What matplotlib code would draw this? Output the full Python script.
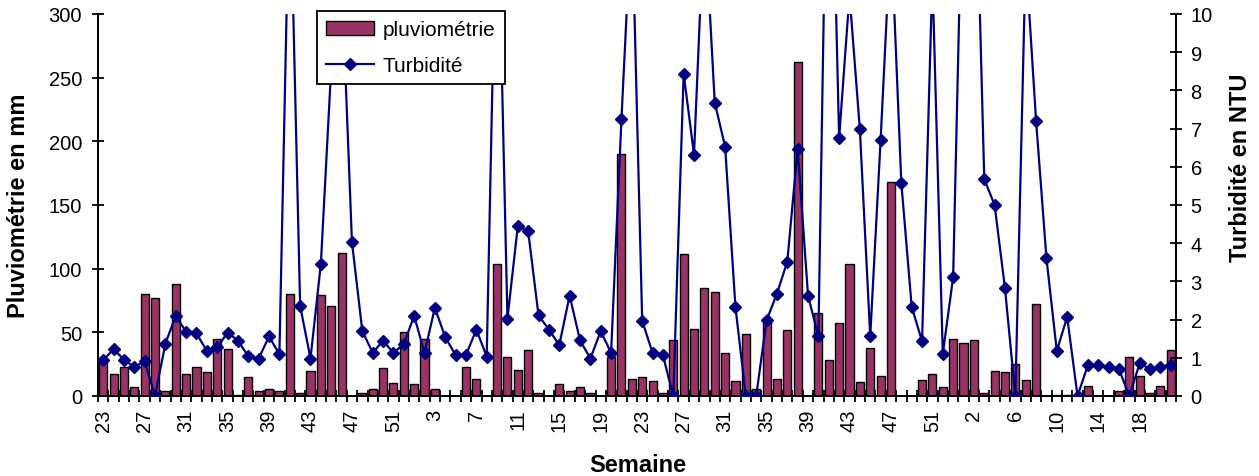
import numpy as np
import matplotlib
matplotlib.use("Agg")
import matplotlib.pyplot as plt
from matplotlib.patches import Patch
from matplotlib.lines import Line2D

plt.rcParams['font.family'] = ['Liberation Sans', 'DejaVu Sans']

# Week numbers (June year 1 -> May year 3)
weeks = list(range(23, 53)) + list(range(1, 54)) + list(range(1, 22))

# Rainfall (mm)
pluviometrie = [
    27, 17, 23, 7.4, 80, 77, 4.2, 88, 17, 23,
    18.7, 45, 37, 1, 15, 4, 5.8, 4, 80, 2.6,
    20, 79, 71, 112, 0, 2.6, 5.8, 21.8, 10.6, 50,
    9.1, 45, 5.8, 0, 0, 23, 13.7, 0, 104, 31,
    20.2, 36, 2.6, 0, 9.1, 4.2, 7.4, 2.6, 0, 31,
    190, 13.7, 15.3, 12.1, 2.6, 43.7, 111.5, 53, 84.7, 81.5,
    34, 12.1, 48.4, 5.8, 60, 13, 52, 262, 0, 65,
    28, 57, 104, 11, 38, 16, 168, 0, 0, 12.2,
    17, 7.4, 45, 42, 44, 2.7, 20, 18.5, 25, 12.2,
    72, 0, 1, 1, 0, 7.5, 0, 0, 4.3, 31,
    15.4, 2.7, 7.5, 36,
]

# Turbidity (NTU)
turbidite = [
    0.93, 1.23, 0.95, 0.76, 0.91, 0.0, 1.37, 2.1, 1.68, 1.64,
    1.18, 1.27, 1.66, 1.45, 1.04, 0.98, 1.56, 1.09, 14, 2.36,
    0.98, 3.46, 8.6, 11, 4.03, 1.7, 1.13, 1.45, 1.13, 1.36,
    2.1, 1.13, 2.31, 1.54, 1.07, 1.07, 1.74, 1.03, 14, 2.02,
    4.45, 4.31, 2.11, 1.74, 1.33, 2.63, 1.46, 0.98, 1.7, 1.13,
    7.25, 12.8, 1.97, 1.13, 1.07, 0.0, 8.44, 6.32, 12.7, 7.68,
    6.53, 2.32, 0.0, 0.0, 1.98, 2.68, 3.52, 6.47, 2.63, 1.56,
    18, 6.75, 10.5, 6.98, 1.56, 6.69, 12.2, 5.58, 2.34, 1.43,
    11, 1.1, 3.11, 15, 16, 5.68, 5.0, 2.82, 0.0, 11.5,
    7.21, 3.61, 1.18, 2.07, 0.0, 0.81, 0.81, 0.76, 0.70, 0.0,
    0.86, 0.70, 0.77, 0.81,
]

left_ticks = [0, 50, 100, 150, 200, 250, 300]
right_ticks = list(range(0, 11))

W, H = 1259, 477
fig = plt.figure(figsize=(W / 100, H / 100), dpi=100)
L, R, T, B = 98, 1176, 15, 397
ax = fig.add_axes([L / W, (H - B) / H, (R - L) / W, (B - T) / H])
ax2 = ax.twinx()

x = np.arange(len(weeks))
ax.bar(x, pluviometrie, width=0.78, color='#993366', edgecolor='black',
       linewidth=1.0, zorder=2)
ax2.plot(x, turbidite, color='#000080', linewidth=1.6, marker='D',
         markersize=6.3, markerfacecolor='#000080', markeredgecolor='#000080',
         zorder=3)

ax.set_xlim(-0.5, len(weeks) - 0.5)
ax.set_ylim(0, 300)
ax2.set_ylim(0, 10)
ax.set_yticks(left_ticks)
ax2.set_yticks(right_ticks)

# x ticks: marks at category boundaries, labels every 4th category
ax.set_xticks(np.arange(-0.5, len(weeks), 1), minor=True)
ax.set_xticks(x[::4])
ax.set_xticklabels([str(w) for w in weeks[::4]], rotation=90, fontsize=14.5)
ax.tick_params(axis='x', which='major', length=0, pad=9)
ax.tick_params(axis='x', which='minor', direction='inout', length=9, width=1.3)
ax.tick_params(axis='y', direction='inout', length=9, width=1.3, labelsize=14.5, pad=7)
ax2.tick_params(axis='y', direction='inout', length=9, width=1.3, labelsize=14.5, pad=6)

for a in (ax, ax2):
    a.spines['top'].set_visible(False)
    for s in ('left', 'right', 'bottom'):
        a.spines[s].set_linewidth(1.3)

ax.set_ylabel('Pluviométrie en mm', fontsize=17, fontweight='bold')
ax.yaxis.set_label_coords(-0.063, 0.5)
ax2.set_ylabel('Turbidité en NTU', fontsize=17, fontweight='bold')
ax2.yaxis.set_label_coords(1.049, 0.6)
ax.set_xlabel('Semaine', fontsize=17, fontweight='bold')
ax.xaxis.set_label_coords(0.501, -0.148)

handles = [Patch(facecolor='#993366', edgecolor='black', linewidth=1.0),
           Line2D([0], [0], color='#000080', linewidth=1.6, marker='D',
                  markersize=6.3, markerfacecolor='#000080')]
leg = ax2.legend(handles, ['pluviométrie', 'Turbidité'], loc='upper left',
                 bbox_to_anchor=(0.203, 1.008), borderaxespad=0, fontsize=15,
                 frameon=True, fancybox=False, framealpha=1, edgecolor='black',
                 borderpad=0.45, handlelength=2.3, handletextpad=0.4,
                 labelspacing=0.8)
leg.get_frame().set_linewidth(1.3)
leg.set_zorder(10)

fig.savefig('out.png', dpi=100)
